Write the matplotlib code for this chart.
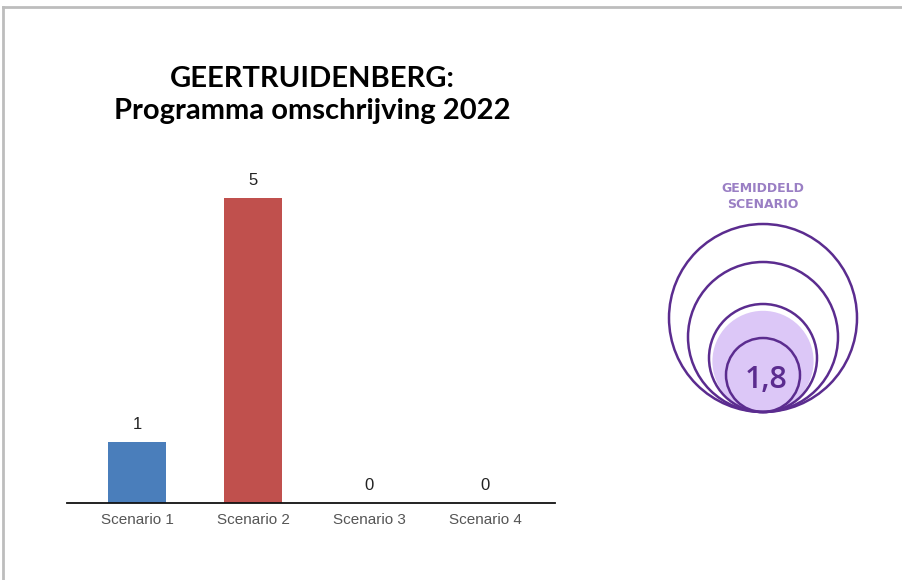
import matplotlib
matplotlib.use("Agg")
import matplotlib.pyplot as plt
from matplotlib.patches import Circle
from matplotlib.lines import Line2D
import numpy as np

# ---- data ----
categories = ["Scenario 1", "Scenario 2", "Scenario 3", "Scenario 4"]
values = [1, 5, 0, 0]
bar_colors = ["#4a7ebb", "#c0504d", "#4a7ebb", "#4a7ebb"]
title_text = "GEERTRUIDENBERG:\nProgramma omschrijving 2022"
average_label = "GEMIDDELD\nSCENARIO"
average_value = 1.8
average_text = "1,8"
ring_levels = [1, 2, 3, 4]
ring_radii = [37, 54, 75, 94]   # px radius of each scenario ring

W, H = 903, 580
fig = plt.figure(figsize=(W / 100, H / 100), dpi=100)
fig.patch.set_facecolor("white")

def px_axes(x0, y0, x1, y1):
    """axes from pixel box (top-left origin)"""
    return fig.add_axes([x0 / W, 1 - y1 / H, (x1 - x0) / W, (y1 - y0) / H])

# border (top and left)
fig.add_artist(Line2D([3 / W, 1], [1 - 7 / H, 1 - 7 / H], color="#bdbdbd", lw=2))
fig.add_artist(Line2D([3 / W, 3 / W], [0, 1 - 7 / H], color="#bdbdbd", lw=2))

# title
fig.text(312 / W, 1 - 95 / H, title_text, ha="center", va="center",
         fontsize=21, fontweight="bold", family="Lato", linespacing=1.28,
         color="black")

# ---- bar chart ----
ax = px_axes(67, 167.5, 555, 503)
x = np.arange(len(categories))
ax.bar(x, values, width=0.5, color=bar_colors)
ax.set_xlim(-0.603, 3.603)
ax.set_ylim(0, 5.5)
for xi, v in zip(x, values):
    ax.text(xi, v + 0.17, str(v), ha="center", va="bottom", fontsize=12,
            family="Liberation Sans", color="#222222")
ax.set_xticks(x)
ax.set_xticklabels(categories, fontsize=11, family="Liberation Sans", color="#555555")
ax.tick_params(axis="x", length=0, pad=7)
ax.set_yticks([])
for s in ["top", "right", "left"]:
    ax.spines[s].set_visible(False)
ax.spines["bottom"].set_linewidth(1.3)
ax.spines["bottom"].set_color("#111111")

# ---- average circles ----
cx0, cy0, cx1, cy1 = 650, 215, 880, 425
cax = px_axes(cx0, cy0, cx1, cy1)
cax.set_xlim(cx0, cx1)
cax.set_ylim(cy1, cy0)
cax.set_aspect("equal")
cax.axis("off")
bottom_y = 412
center_x = 763
# fill radius interpolated at the average value on the ring scale
fill_r = np.interp(average_value, ring_levels, ring_radii)
cax.add_patch(Circle((center_x, bottom_y - fill_r), fill_r, facecolor="#dcc7f7",
                     edgecolor="none"))
for r in ring_radii:
    cax.add_patch(Circle((center_x, bottom_y - r), r, facecolor="none",
                         edgecolor="#5b2c8f", lw=1.8))
cax.text(center_x + 3, bottom_y - 32, average_text, ha="center", va="center",
         fontsize=22, fontweight="semibold", family="Open Sans", color="#5b2c8f")

fig.text(763 / W, 1 - 197 / H, average_label, ha="center", va="center",
         fontsize=9, fontweight="bold", family="DejaVu Sans", color="#9a7fc4",
         linespacing=1.3)

fig.savefig("out.png", dpi=100, facecolor="white")
